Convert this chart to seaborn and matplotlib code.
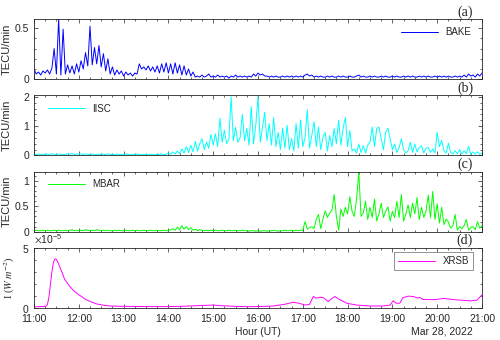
import numpy as np
import pandas as pd
import matplotlib
matplotlib.use("Agg")
import matplotlib.pyplot as plt
import matplotlib.dates as mdates
from matplotlib.ticker import MultipleLocator, FixedLocator, ScalarFormatter
import seaborn as sns

# TEC rate (TECU/min), one value every 3 minutes from 11:00 to 21:00, one row per hour
bake = [
    0.10, 0.05, 0.07, 0.04, 0.08, 0.06, 0.09, 0.05, 0.11, 0.30, 0.05, 0.59, 0.04, 0.49, 0.05, 0.14, 0.06, 0.13, 0.05, 0.15,
    0.07, 0.18, 0.10, 0.26, 0.13, 0.52, 0.14, 0.31, 0.15, 0.33, 0.12, 0.25, 0.08, 0.20, 0.05, 0.12, 0.04, 0.09, 0.05, 0.08,
    0.03, 0.07, 0.04, 0.06, 0.03, 0.06, 0.05, 0.15, 0.10, 0.12, 0.09, 0.13, 0.08, 0.12, 0.07, 0.13, 0.06, 0.15, 0.07, 0.16,
    0.06, 0.15, 0.05, 0.16, 0.06, 0.14, 0.04, 0.13, 0.04, 0.10, 0.03, 0.07, 0.02, 0.03, 0.02, 0.04, 0.02, 0.03, 0.05, 0.02,
    0.03, 0.02, 0.04, 0.02, 0.03, 0.02, 0.03, 0.01, 0.03, 0.02, 0.04, 0.02, 0.03, 0.02, 0.03, 0.02, 0.03, 0.02, 0.05, 0.03,
    0.06, 0.04, 0.05, 0.03, 0.03, 0.02, 0.03, 0.02, 0.03, 0.02, 0.02, 0.03, 0.02, 0.03, 0.02, 0.03, 0.02, 0.03, 0.02, 0.03,
    0.02, 0.04, 0.05, 0.03, 0.04, 0.02, 0.03, 0.02, 0.03, 0.02, 0.02, 0.03, 0.02, 0.03, 0.02, 0.02, 0.03, 0.02, 0.03, 0.02,
    0.02, 0.03, 0.02, 0.02, 0.03, 0.04, 0.02, 0.03, 0.02, 0.02, 0.03, 0.02, 0.03, 0.02, 0.02, 0.03, 0.02, 0.03, 0.02, 0.02,
    0.03, 0.02, 0.03, 0.02, 0.02, 0.03, 0.02, 0.03, 0.02, 0.03, 0.02, 0.02, 0.03, 0.02, 0.03, 0.02, 0.03, 0.02, 0.02, 0.03,
    0.02, 0.03, 0.02, 0.03, 0.02, 0.03, 0.02, 0.02, 0.03, 0.02, 0.03, 0.02, 0.04, 0.02, 0.05, 0.03, 0.04, 0.02, 0.05, 0.03,
    0.06,
]
iisc = [
    0.04, 0.03, 0.05, 0.02, 0.04, 0.03, 0.05, 0.03, 0.06, 0.04, 0.03, 0.05, 0.02, 0.04, 0.03, 0.06, 0.04, 0.07, 0.03, 0.05,
    0.04, 0.06, 0.03, 0.05, 0.04, 0.03, 0.05, 0.02, 0.04, 0.03, 0.05, 0.04, 0.03, 0.06, 0.03, 0.04, 0.02, 0.05, 0.03, 0.04,
    0.03, 0.05, 0.04, 0.02, 0.04, 0.03, 0.05, 0.03, 0.02, 0.04, 0.03, 0.02, 0.04, 0.03, 0.02, 0.04, 0.03, 0.05, 0.03, 0.04,
    0.08, 0.04, 0.12, 0.05, 0.15, 0.06, 0.22, 0.08, 0.30, 0.10, 0.35, 0.12, 0.48, 0.15, 0.40, 0.57, 0.20, 0.45, 0.25, 0.72,
    0.35, 0.74, 0.30, 1.27, 0.45, 0.86, 0.40, 0.55, 2.00, 0.50, 0.97, 0.45, 0.60, 1.40, 0.50, 0.92, 0.35, 1.67, 0.40, 1.03,
    2.00, 0.45, 0.97, 1.47, 0.50, 1.09, 0.35, 1.29, 0.30, 0.79, 0.20, 0.93, 0.25, 1.03, 0.20, 0.57, 0.15, 1.09, 0.25, 1.21,
    0.30, 0.60, 1.56, 0.25, 0.68, 1.15, 0.30, 0.97, 0.20, 0.62, 0.79, 0.15, 0.68, 0.30, 0.92, 0.40, 1.20, 0.35, 0.93, 1.29,
    0.30, 0.85, 0.15, 0.22, 0.08, 0.39, 0.10, 0.33, 0.08, 0.35, 0.45, 0.97, 0.30, 0.92, 0.97, 0.57, 0.20, 0.79, 0.93, 0.57,
    0.20, 0.39, 0.10, 0.27, 0.57, 0.20, 0.08, 0.15, 0.45, 0.10, 0.39, 0.12, 0.27, 0.33, 0.08, 0.25, 0.27, 0.10, 0.22, 0.08,
    0.79, 0.30, 0.51, 0.16, 0.08, 0.42, 0.10, 0.05, 0.16, 0.06, 0.20, 0.05, 0.16, 0.06, 0.31, 0.04, 0.12, 0.05, 0.12, 0.04,
    0.07,
]
mbar = [
    0.02, 0.03, 0.02, 0.02, 0.03, 0.02, 0.03, 0.02, 0.02, 0.03, 0.02, 0.03, 0.02, 0.02, 0.03, 0.02, 0.03, 0.04, 0.02, 0.03,
    0.02, 0.03, 0.02, 0.04, 0.03, 0.02, 0.03, 0.02, 0.04, 0.03, 0.02, 0.03, 0.02, 0.03, 0.02, 0.02, 0.03, 0.02, 0.03, 0.02,
    0.02, 0.03, 0.02, 0.02, 0.03, 0.02, 0.03, 0.02, 0.02, 0.03, 0.02, 0.02, 0.03, 0.02, 0.02, 0.03, 0.02, 0.02, 0.03, 0.02,
    0.02, 0.04, 0.06, 0.03, 0.09, 0.04, 0.12, 0.05, 0.10, 0.04, 0.08, 0.03, 0.05, 0.02, 0.04, 0.03, 0.02, 0.03, 0.02, 0.03,
    0.02, 0.03, 0.02, 0.02, 0.03, 0.02, 0.02, 0.03, 0.02, 0.02, 0.03, 0.02, 0.02, 0.03, 0.02, 0.02, 0.01, 0.02, 0.02, 0.01,
    0.02, 0.01, 0.02, 0.02, 0.01, 0.02, 0.02, 0.03, 0.02, 0.01, 0.02, 0.02, 0.03, 0.02, 0.02, 0.03, 0.02, 0.03, 0.02, 0.03,
    0.03, 0.20, 0.05, 0.08, 0.10, 0.06, 0.24, 0.34, 0.06, 0.25, 0.41, 0.28, 0.37, 0.42, 0.73, 0.30, 0.03, 0.45, 0.30, 0.48,
    0.35, 0.69, 0.40, 0.30, 0.64, 1.17, 0.30, 0.37, 0.60, 0.24, 0.48, 0.28, 0.64, 0.21, 0.35, 0.56, 0.28, 0.40, 0.49, 0.21,
    0.40, 0.28, 0.60, 0.28, 0.73, 0.21, 0.35, 0.53, 0.28, 0.56, 0.35, 0.67, 0.24, 0.48, 0.28, 0.40, 0.72, 0.28, 0.79, 0.24,
    0.55, 0.17, 0.48, 0.14, 0.25, 0.19, 0.07, 0.12, 0.34, 0.03, 0.10, 0.06, 0.12, 0.24, 0.03, 0.08, 0.10, 0.04, 0.20, 0.07,
    0.12,
]

# GOES XRS-B flux, in units of 1e-5 W m^-2
xrsb_time = ["11:00", "11:10", "11:16", "11:18", "11:20", "11:22", "11:24", "11:26", "11:28", "11:30",
             "11:32", "11:35", "11:38", "11:41", "11:45", "11:48", "11:53", "11:59", "12:05", "12:10",
             "12:17", "12:24", "12:33", "12:42", "13:00", "13:20", "13:40", "14:00", "14:20", "14:40",
             "15:00", "15:10", "15:30", "15:50", "16:10", "16:20", "16:35", "16:47", "16:55", "17:03",
             "17:09", "17:14", "17:18", "17:23", "17:28", "17:34", "17:38", "17:43", "17:50", "17:59",
             "18:12", "18:30", "18:47", "18:57", "19:01", "19:05", "19:10", "19:14", "19:21", "19:28",
             "19:34", "19:36", "19:41", "19:50", "19:59", "20:08", "20:26", "20:44", "20:53", "21:00"]
xrsb_val = [0.10, 0.12, 0.15, 0.30, 0.90, 2.00, 3.00, 3.80, 4.10, 4.05,
            3.80, 3.35, 2.90, 2.40, 2.05, 1.80, 1.45, 1.15, 0.90, 0.68,
            0.50, 0.34, 0.24, 0.17, 0.14, 0.13, 0.12, 0.12, 0.15, 0.20,
            0.25, 0.20, 0.14, 0.11, 0.14, 0.17, 0.30, 0.48, 0.40, 0.25,
            0.30, 0.96, 0.82, 0.90, 0.85, 0.54, 0.75, 0.96, 0.68, 0.40,
            0.25, 0.17, 0.17, 0.25, 0.60, 0.40, 0.40, 0.85, 0.99, 0.96,
            0.82, 0.90, 0.71, 0.70, 0.71, 0.80, 0.68, 0.60, 0.65, 1.10]

sns.set_style("ticks", {"xtick.direction": "in", "ytick.direction": "in",
                        "axes.edgecolor": "#262626"})
plt.rcParams["font.family"] = ["Liberation Sans", "DejaVu Sans"]
plt.rcParams["mathtext.fontset"] = "stix"

times = pd.date_range("2022-03-28 11:00", periods=len(bake), freq="3min")
tec = pd.DataFrame({"time": times, "BAKE": bake, "IISC": iisc, "MBAR": mbar})
xr = pd.DataFrame({"time": pd.to_datetime(["2022-03-28 " + t for t in xrsb_time]),
                   "XRSB": np.array(xrsb_val) * 1e-5})

fig, axes = plt.subplots(4, 1, figsize=(5, 3.4), dpi=100, sharex=True)
fig.subplots_adjust(left=0.068, right=0.964, top=0.944, bottom=0.094, hspace=0.27)

panels = [("BAKE", "#0000ff", (0, 0.59), [0, 0.5], 0.1),
          ("IISC", "#00ffff", (0, 2.05), [0, 1, 2], 0.2),
          ("MBAR", "#00ff00", (0, 1.18), [0, 0.5, 1], 0.1)]
leg_pos = [("center right", (0.985, 0.78)),
           ("center left", (0.022, 0.78)),
           ("center left", (0.022, 0.795))]

for ax, (name, col, ylim, yt, ymin), (loc, anchor) in zip(axes[:3], panels, leg_pos):
    sns.lineplot(data=tec, x="time", y=name, ax=ax, color=col, lw=0.7, label=name)
    ax.set_ylim(*ylim)
    ax.yaxis.set_major_locator(FixedLocator(yt))
    ax.yaxis.set_minor_locator(MultipleLocator(ymin))
    ax.set_yticklabels([f"{v:g}" for v in yt])
    ax.set_ylabel("TECU/min", fontsize=8)
    ax.yaxis.set_label_coords(-0.049, 0.5)
    ax.legend(loc=loc, bbox_to_anchor=anchor, frameon=False, fontsize=7,
              handlelength=3.8, borderaxespad=0)

ax = axes[3]
sns.lineplot(data=xr, x="time", y="XRSB", ax=ax, color="#ff00ff", lw=0.7, label="XRSB")
ax.set_ylim(0, 5e-5)
ax.yaxis.set_major_locator(FixedLocator([0, 5e-5]))
ax.yaxis.set_minor_locator(MultipleLocator(1e-5))
fmt = ScalarFormatter(useMathText=True)
fmt.set_powerlimits((0, 0))
ax.yaxis.set_major_formatter(fmt)
ax.yaxis.get_offset_text().set_fontsize(7.5)
ax.set_ylabel(r"I ($W\ m^{-2}$)", fontsize=7.5, family="Liberation Serif")
ax.yaxis.set_label_coords(-0.038, 0.5)
leg = ax.legend(loc="upper right", bbox_to_anchor=(0.98, 0.93), fontsize=7,
                handlelength=3.8, borderaxespad=0, fancybox=False, edgecolor="#808080",
                framealpha=1)
leg.get_frame().set_linewidth(0.6)

for ax, tag in zip(axes, ["(a)", "(b)", "(c)", "(d)"]):
    ax.set_xlim(pd.Timestamp("2022-03-28 11:00"), pd.Timestamp("2022-03-28 21:00"))
    ax.xaxis.set_major_locator(mdates.HourLocator())
    ax.xaxis.set_minor_locator(mdates.MinuteLocator(byminute=[15, 30, 45]))
    ax.xaxis.set_major_formatter(mdates.DateFormatter("%H:%M"))
    ax.tick_params(which="both", direction="in", top=True, right=True,
                   labelsize=7.5, colors="#262626", width=0.5)
    ax.tick_params(which="major", length=3)
    ax.tick_params(which="minor", length=1.5)
    ax.tick_params(axis="x", pad=4.5)
    for s in ax.spines.values():
        s.set_linewidth(0.6)
    ax.set_xlabel("")
    ax.text(0.98, 1.12, tag, transform=ax.transAxes, ha="right", va="center",
            fontsize=10, family="Liberation Serif")

axes[3].set_xlabel("Hour (UT)", fontsize=7.5, labelpad=2)
axes[3].text(0.98, -0.39, "Mar 28, 2022", transform=axes[3].transAxes,
             ha="right", va="center", fontsize=7.5)

plt.savefig("out.png", dpi=100)
